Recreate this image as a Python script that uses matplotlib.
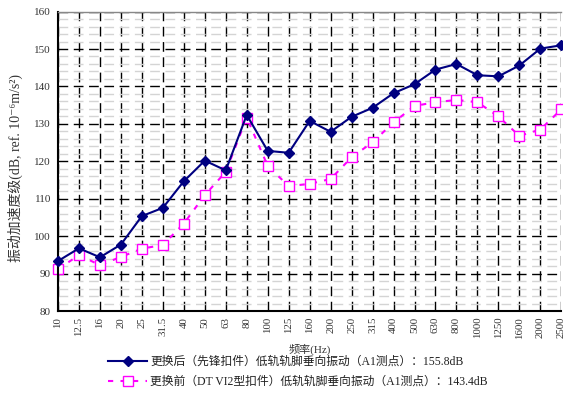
import matplotlib
matplotlib.use("Agg")
import matplotlib.pyplot as plt
from matplotlib.ticker import MultipleLocator

plt.rcParams['font.family'] = ['Liberation Serif', 'DejaVu Serif', 'Noto Sans CJK SC']

# 1/3 octave band centre frequencies
freq_labels = ['10', '12.5', '16', '20', '25', '31.5', '40', '50', '63', '80',
               '100', '125', '160', '200', '250', '315', '400', '500', '630',
               '800', '1000', '1250', '1600', '2000', '2500']

after_values = [93.4, 96.8, 94.4, 97.8, 105.4, 107.6, 114.7, 120.2, 117.6, 132.4,
                122.8, 122.3, 130.8, 127.9, 131.9, 134.3, 138.2, 140.6, 144.5,
                146.0, 143.0, 142.7, 145.6, 150.1, 151.0]
before_values = [91.2, 95.0, 92.3, 94.5, 96.7, 97.7, 103.4, 111.0, 117.2, 131.7,
                 118.8, 113.4, 114.0, 115.3, 121.1, 125.1, 130.4, 134.8, 135.8,
                 136.4, 135.8, 132.0, 126.8, 128.5, 133.9]

after_label = '更换后（先锋扣件）低轨轨脚垂向振动（A1测点）：155.8dB'
before_label = '更换前（DT VI2型扣件）低轨轨脚垂向振动（A1测点）：143.4dB'

fig = plt.figure(figsize=(5.63, 3.98), dpi=100)
ax = fig.add_axes([0.103, 0.218, 0.894, 0.753])

x = list(range(len(freq_labels)))

# grid: grey minor lines every 2 dB, black dashed major lines
ax.yaxis.set_major_locator(MultipleLocator(10))
ax.yaxis.set_minor_locator(MultipleLocator(2))
ax.grid(which='minor', axis='y', color='#d4d4d4', linestyle=(0, (7, 4)), linewidth=1.0)
ax.grid(which='major', axis='y', color='black', linestyle=(0, (7, 4)), linewidth=1.0)
ax.grid(which='major', axis='x', color='black', linestyle=(0, (7, 4)), linewidth=1.0)
ax.set_axisbelow(True)

ax.plot(x, after_values, color='#000080', linewidth=1.5, marker='D',
        markersize=5, label=after_label, zorder=3, clip_on=False)
ax.plot(x, before_values, color='#ff00ff', linewidth=1.5, linestyle=(0, (2.5, 3.5)),
        marker='s', markersize=7, markerfacecolor='white', markeredgecolor='#ff00ff',
        markeredgewidth=1.0, label=before_label, zorder=2, clip_on=False)

ax.set_xlim(0, len(freq_labels) - 1)
ax.set_ylim(80, 160)
ax.set_xticks(x)
ax.set_xticklabels(freq_labels, rotation=90, fontsize=7.8, color='#333333')
ax.tick_params(axis='y', labelsize=8, labelcolor='#333333', length=0, which='both', pad=5)
ax.tick_params(axis='x', length=0, pad=4)

for side in ['left', 'bottom']:
    ax.spines[side].set_linewidth(1.5)
    ax.spines[side].set_color('black')
ax.spines['top'].set_color('#888888')
ax.spines['top'].set_linewidth(1.0)
ax.spines['right'].set_visible(False)

fig.text(0.551, 0.123, '频率(Hz)', ha='center', va='center', fontsize=8, color='#333333')
fig.text(0.027, 0.577, '振动加速度级(dB, ref. 10⁻⁶m/s²)', ha='center', va='center',
         rotation=90, fontsize=10, color='#333333')

fig.legend(loc='center left', bbox_to_anchor=(0.192, 0.0653), frameon=False, fontsize=8.5,
           borderpad=0, borderaxespad=0, handlelength=3.3, handletextpad=0.25,
           labelspacing=0.68, labelcolor='#222222')

fig.savefig('out.png', dpi=100)
